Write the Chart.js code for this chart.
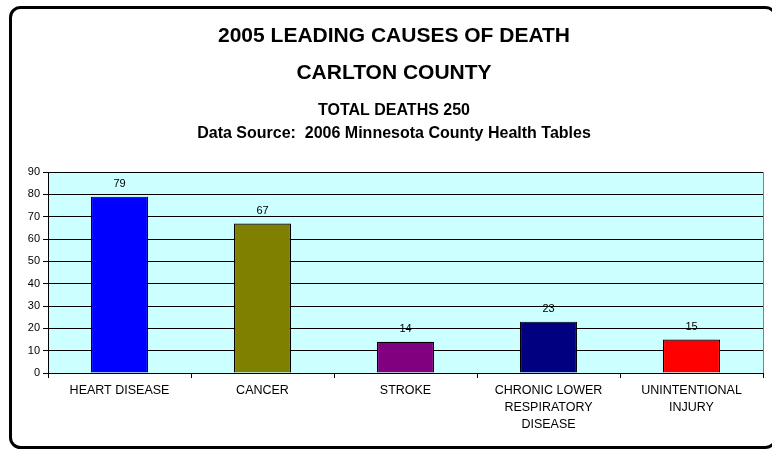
<!DOCTYPE html>
<html>
<head>
<meta charset="utf-8">
<script src="https://cdn.jsdelivr.net/npm/chart.js@4/dist/chart.umd.min.js"></script>
<style>
  html, body { margin: 0; padding: 0; background: #fff; }
  #wrap { width: 772px; height: 449px; }
</style>
</head>
<body>
<div id="wrap"><canvas id="chart" width="772" height="449"></canvas></div>
<script>
const titleLines = ['2005 LEADING CAUSES OF DEATH', 'CARLTON COUNTY'];
const subtitleLines = ['TOTAL DEATHS 250', 'Data Source:  2006 Minnesota County Health Tables'];
const causes = [
    'HEART DISEASE',
    'CANCER',
    'STROKE',
    ['CHRONIC LOWER', 'RESPIRATORY', 'DISEASE'],
    ['UNINTENTIONAL', 'INJURY']
];
const deaths = [79, 67, 14, 23, 15];
const barColors = ['#0000FF', '#808000', '#800080', '#000080', '#FF0000'];

const FONT = 'Arial, "Liberation Sans", sans-serif';

// rounded frame around the whole picture + cyan plot background
const framePlugin = {
    id: 'frame',
    beforeDraw(chart) {
        const ctx = chart.ctx;
        const a = chart.chartArea;
        ctx.save();
        ctx.fillStyle = '#CCFFFF';
        ctx.fillRect(a.left, a.top, a.right - a.left, a.bottom - a.top);
        ctx.lineWidth = 3;
        ctx.strokeStyle = '#000';
        ctx.beginPath();
        ctx.roundRect(10.5, 7.5, 765, 440, 10);
        ctx.stroke();
        ctx.restore();
    },
    afterDatasetsDraw(chart) {
        const ctx = chart.ctx;
        const a = chart.chartArea;
        ctx.save();
        ctx.strokeStyle = '#808080';
        ctx.lineWidth = 1;
        ctx.beginPath();
        ctx.moveTo(a.right + 0.5, a.top);
        ctx.lineTo(a.right + 0.5, a.bottom);
        ctx.stroke();
        // value labels above bars
        ctx.fillStyle = '#000';
        ctx.font = '11px ' + FONT;
        ctx.textAlign = 'center';
        ctx.textBaseline = 'middle';
        chart.getDatasetMeta(0).data.forEach((bar, i) => {
            ctx.fillText(String(deaths[i]), bar.x, bar.y - 12.5);
        });
        ctx.restore();
    }
};

new Chart(document.getElementById('chart'), {
    type: 'bar',
    data: {
        labels: causes,
        datasets: [{
            data: deaths,
            backgroundColor: barColors,
            borderColor: '#000',
            borderWidth: 1.2,
            barPercentage: 0.4,
            categoryPercentage: 1
        }]
    },
    options: {
        responsive: false,
        animation: false,
        layout: { padding: { left: 25, right: 9, top: 0, bottom: 0 } },
        plugins: {
            legend: { display: false },
            tooltip: { enabled: false },
            title: {
                display: true,
                text: titleLines,
                color: '#000',
                font: { family: FONT, size: 21, weight: 'bold', lineHeight: 1.74 },
                padding: { top: 18, bottom: 0 }
            },
            subtitle: {
                display: true,
                text: subtitleLines,
                color: '#000',
                font: { family: FONT, size: 16, weight: 'bold', lineHeight: 1.4 },
                padding: { top: 8.8, bottom: 27.4 }
            }
        },
        scales: {
            x: {
                afterFit(scale) { scale.height = 76; },
                grid: {
                    offset: true,
                    drawOnChartArea: false,
                    color: '#000',
                    tickLength: 5
                },
                border: { color: '#000' },
                ticks: {
                    color: '#000',
                    padding: 4,
                    maxRotation: 0,
                    autoSkip: false,
                    font: { family: FONT, size: 12.5, lineHeight: 1.36 }
                }
            },
            y: {
                min: 0,
                max: 90,
                afterFit(scale) { scale.width = 23; },
                grid: { color: '#000', tickLength: 5 },
                border: { color: '#000' },
                ticks: {
                    stepSize: 10,
                    color: '#000',
                    padding: 3,
                    font: { family: FONT, size: 11 }
                }
            }
        }
    },
    plugins: [framePlugin]
});
</script>
</body>
</html>
